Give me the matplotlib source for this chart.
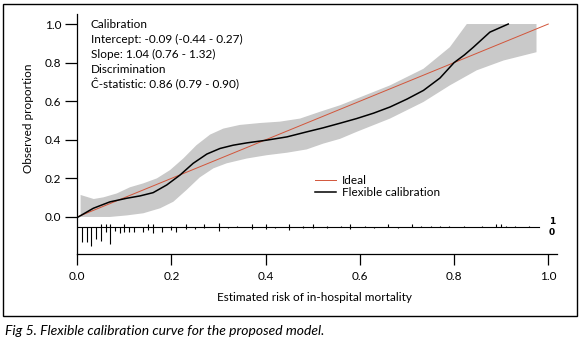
import numpy as np
import matplotlib.pyplot as plt
from matplotlib.patches import Rectangle

plt.rcParams['font.family'] = ['Lato', 'DejaVu Sans']

# Curva de calibración flexible
curva_x = [0.002, 0.034, 0.069, 0.105, 0.133, 0.161, 0.19, 0.218, 0.246, 0.275, 0.303,
           0.331, 0.36, 0.402, 0.445, 0.487, 0.522, 0.558, 0.593, 0.629, 0.664, 0.70,
           0.735, 0.77, 0.80, 0.822, 0.841, 0.876, 0.915]
curva_y = [0.0, 0.045, 0.078, 0.097, 0.109, 0.126, 0.166, 0.217, 0.278, 0.326, 0.355,
           0.372, 0.384, 0.398, 0.415, 0.441, 0.462, 0.486, 0.510, 0.538, 0.570, 0.611,
           0.656, 0.72, 0.80, 0.84, 0.880, 0.958, 1.0]

# Banda de confianza
sup_x = [0.007, 0.035, 0.056, 0.084, 0.112, 0.14, 0.169, 0.197, 0.225, 0.253, 0.282,
         0.31, 0.345, 0.388, 0.43, 0.473, 0.515, 0.558, 0.593, 0.664, 0.735, 0.791,
         0.827, 0.975]
sup_y = [0.114, 0.093, 0.102, 0.122, 0.154, 0.174, 0.2, 0.243, 0.303, 0.372, 0.427,
         0.458, 0.477, 0.487, 0.494, 0.51, 0.545, 0.579, 0.613, 0.682, 0.768, 0.880,
         1.0, 1.0]
inf_x = [0.007, 0.069, 0.105, 0.14, 0.176, 0.204, 0.232, 0.26, 0.289, 0.317, 0.36,
         0.402, 0.445, 0.487, 0.522, 0.558, 0.593, 0.664, 0.735, 0.791, 0.848, 0.905,
         0.975]
inf_y = [0.0, 0.0, 0.008, 0.019, 0.045, 0.079, 0.14, 0.205, 0.252, 0.278, 0.303,
         0.32, 0.333, 0.35, 0.38, 0.405, 0.441, 0.51, 0.596, 0.682, 0.76, 0.811,
         0.854]

ideal_x = [0, 1]
ideal_y = [0, 1]

# Histograma de espigas: conteos por intervalo de 0.01
rug_x = [0.01, 0.02, 0.03, 0.04, 0.05, 0.06, 0.07, 0.08, 0.09, 0.10, 0.11, 0.12, 0.14,
         0.15, 0.16, 0.18, 0.20, 0.21, 0.23, 0.25, 0.27, 0.30, 0.32, 0.34, 0.37, 0.40,
         0.42, 0.45, 0.48, 0.50, 0.53, 0.56, 0.58, 0.61, 0.63, 0.66, 0.68, 0.71, 0.73,
         0.75, 0.77, 0.79, 0.82, 0.86, 0.89, 0.90, 0.91, 0.93, 0.96]
n0 = [14, 14, 18, 12, 13, 5, 16, 4, 6, 5, 5, 5, 5, 3, 6, 5, 3, 5, 2, 2, 1, 4, 1, 0, 2, 2,
      1, 3, 1, 1, 1, 0, 2, 0, 1, 0, 1, 0, 0, 0, 0, 0, 0, 0, 0, 0, 0, 0, 0]
n1 = [0, 0, 0, 0, 2, 2, 2, 0, 0, 2, 0, 0, 0, 2, 2, 0, 1, 0, 2, 0, 2, 3, 0, 1, 2, 2, 0, 2,
      1, 2, 1, 1, 2, 1, 0, 2, 0, 2, 1, 1, 1, 1, 1, 1, 2, 2, 1, 1, 1]

textos = ['Calibration',
          'Intercept: -0.09 (-0.44 - 0.27)',
          'Slope: 1.04 (0.76 - 1.32)',
          'Discrimination',
          'Ĉ-statistic: 0.86 (0.79 - 0.90)']

W, H = 580, 347
fig = plt.figure(figsize=(W / 100, H / 100), dpi=100)
ax = fig.add_axes([77.3 / W, 93 / H, 479.7 / W, 240 / H])

fs = 8.5
ax.fill(np.concatenate([sup_x, inf_x[::-1]]), np.concatenate([sup_y, inf_y[::-1]]),
        color='#c9c9c9', lw=0)
ax.plot(ideal_x, ideal_y, color='#d2553a', lw=0.7, label='Ideal')
ax.plot(curva_x, curva_y, color='black', lw=1.1, label='Flexible calibration',
        solid_joinstyle='round')

# espigas
base = -0.05
maxf = max(max(n0), max(n1))
rx = np.array(rug_x)
ax.plot([0, 0.98], [base, base], color='black', lw=0.8)
m1 = np.array(n1) > 0
m0 = np.array(n0) > 0
ax.vlines(rx[m1], base, base + 0.1 * np.array(n1)[m1] / maxf, color='black', lw=0.8)
ax.vlines(rx[m0], base, base - 0.1 * np.array(n0)[m0] / maxf, color='black', lw=0.8)
ax.text(1.008, -0.026, '1', fontsize=6.5, fontweight='bold', ha='center', va='center',
        family=['DejaVu Sans'])
ax.text(1.008, -0.078, '0', fontsize=6.5, fontweight='bold', ha='center', va='center',
        family=['DejaVu Sans'])

for i, t in enumerate(textos):
    ax.text(0.0285, 0.995 - i * 0.0767, t, fontsize=fs, ha='left', va='center')

ax.legend(loc='upper left', bbox_to_anchor=(0.4955, 0.33), frameon=False, fontsize=fs,
          handlelength=1.75, handletextpad=0.5, labelspacing=0.12, borderpad=0,
          borderaxespad=0)

ax.set_xlim(0, 1.0185)
ax.set_ylim(-0.192, 1.052)
ticks = [0, 0.2, 0.4, 0.6, 0.8, 1.0]
ax.set_xticks(ticks)
ax.set_xticklabels(['0.0', '0.2', '0.4', '0.6', '0.8', '1.0'], fontsize=fs)
ax.set_yticks(ticks)
ax.set_yticklabels(['0.0', '0.2', '0.4', '0.6', '0.8', '1.0'], fontsize=fs)
ax.tick_params(axis='x', length=8, width=0.9, pad=4)
ax.tick_params(axis='y', length=8.5, width=0.9, pad=3)
for s in ['top', 'right']:
    ax.spines[s].set_visible(False)
for s in ['left', 'bottom']:
    ax.spines[s].set_linewidth(0.9)

ax.set_xlabel('Estimated risk of in-hospital mortality', fontsize=fs)
ax.xaxis.set_label_coords(0.4934, -0.158)
ax.set_ylabel('Observed proportion', fontsize=fs, va='center')
ax.yaxis.set_label_coords(-0.102, 0.567)

# marco y pie de figura
fig.patches.append(Rectangle((3 / W, 31 / H), 574 / W, 312 / H, transform=fig.transFigure,
                             fill=False, edgecolor='black', lw=1.0))
fig.text(5 / W, 1 - 331 / H, 'Fig 5. Flexible calibration curve for the proposed model.',
         fontsize=10, style='italic', ha='left', va='center')

plt.savefig('out.png', dpi=100)
plt.close()
